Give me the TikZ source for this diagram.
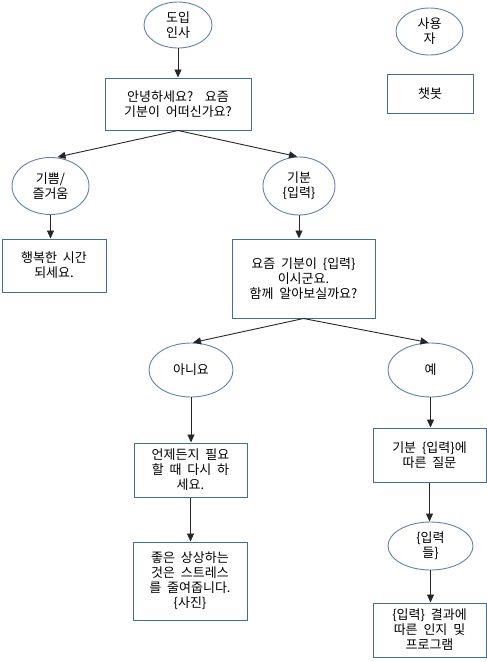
\documentclass[tikz,border=0pt]{standalone}
\usepackage{fontspec}
\newfontfamily\kr{Noto Sans CJK KR}
\usetikzlibrary{arrows.meta,shapes.geometric}
\definecolor{ellcol}{RGB}{95,130,175}
\definecolor{boxcol}{RGB}{65,110,155}
\newcommand{\krfont}{\kr\fontsize{13}{15}\selectfont\spaceskip=0.45em plus 0.1em\relax}
\tikzset{
  ell/.style={draw=ellcol,line width=0.9pt,ellipse,inner sep=0pt,align=center,font=\krfont},
  rbox/.style={draw=boxcol,line width=1pt,rectangle,inner sep=0pt,align=center,font=\krfont},
  conn/.style={draw=black!85,line width=0.9pt,-{Triangle[length=8pt,width=7pt]}}
}
\begin{document}
\begin{tikzpicture}[x=1pt,y=-1pt]
\useasboundingbox (0,0) rectangle (487,662);
% ellipses
\node[ell, minimum width=68pt, minimum height=46pt] (intro) at (178,25) {도입\\인사};
\node[ell, minimum width=67pt, minimum height=47pt] (user) at (429.5,31.5) {사용\\자};
\node[ell, minimum width=77pt, minimum height=57pt] (joy) at (50.5,186) {기쁨/\\즐거움};
\node[ell, minimum width=72pt, minimum height=58pt] (mood) at (299,186) {기분\\\{입력\}};
\node[ell, minimum width=84pt, minimum height=54pt] (no) at (191,370) {아니요};
\node[ell, minimum width=85pt, minimum height=54pt] (yes) at (430.5,370) {예};
\node[ell, minimum width=85pt, minimum height=48pt] (inputs) at (430.5,546) {\{입력\\들\}};
% boxes
\node[rbox, minimum width=146pt, minimum height=52pt] (greet) at (178,104) {안녕하세요?\ \ 요즘\\기분이 어떠신가요?};
\node[rbox, minimum width=86pt, minimum height=39pt] (bot) at (430,93.5) {챗봇};
\node[rbox, minimum width=104pt, minimum height=53pt] (happy) at (54,265.5) {행복한 시간\\되세요.};
\node[rbox, minimum width=143pt, minimum height=79pt] (recent) at (303.5,278.5) {요즘 기분이 \{입력\}\\이시군요.\\함께 알아보실까요?};
\node[rbox, minimum width=113pt, minimum height=54pt] (anytime) at (190.5,470) {언제든지 필요\\할 때 다시 하\\세요.};
\node[rbox, minimum width=113pt, minimum height=54pt] (question) at (429.5,455) {기분 \{입력\}에\\따른 질문};
\node[rbox, minimum width=114pt, minimum height=78pt] (good) at (190,581) {좋은 상상하는\\것은 스트레스\\를 줄여줍니다.\\\{사진\}};
\node[rbox, minimum width=113pt, minimum height=54pt] (result) at (429.5,630) {\{입력\} 결과에\\따른 인지 및\\프로그램};
% connectors
\draw[conn] (intro.south) -- (greet.north);
\draw[conn] (greet.south) -- ([xshift=7pt]joy.north);
\draw[conn] (greet.south) -- ([xshift=-2pt]mood.north);
\draw[conn] (joy.south) -- (joy.south |- happy.north);
\draw[conn] (mood.south) -- (mood.south |- recent.north);
\draw[conn] (recent.south) -- ([xshift=2pt]no.north);
\draw[conn] (recent.south) -- ([xshift=-2pt]yes.north);
\draw[conn] (no.south) -- (no.south |- anytime.north);
\draw[conn] (anytime.south) -- (anytime.south |- good.north);
\draw[conn] (yes.south) -- (yes.south |- question.north);
\draw[conn] (question.south) -- (question.south |- inputs.north);
\draw[conn] (inputs.south) -- (inputs.south |- result.north);
\end{tikzpicture}
\end{document}
